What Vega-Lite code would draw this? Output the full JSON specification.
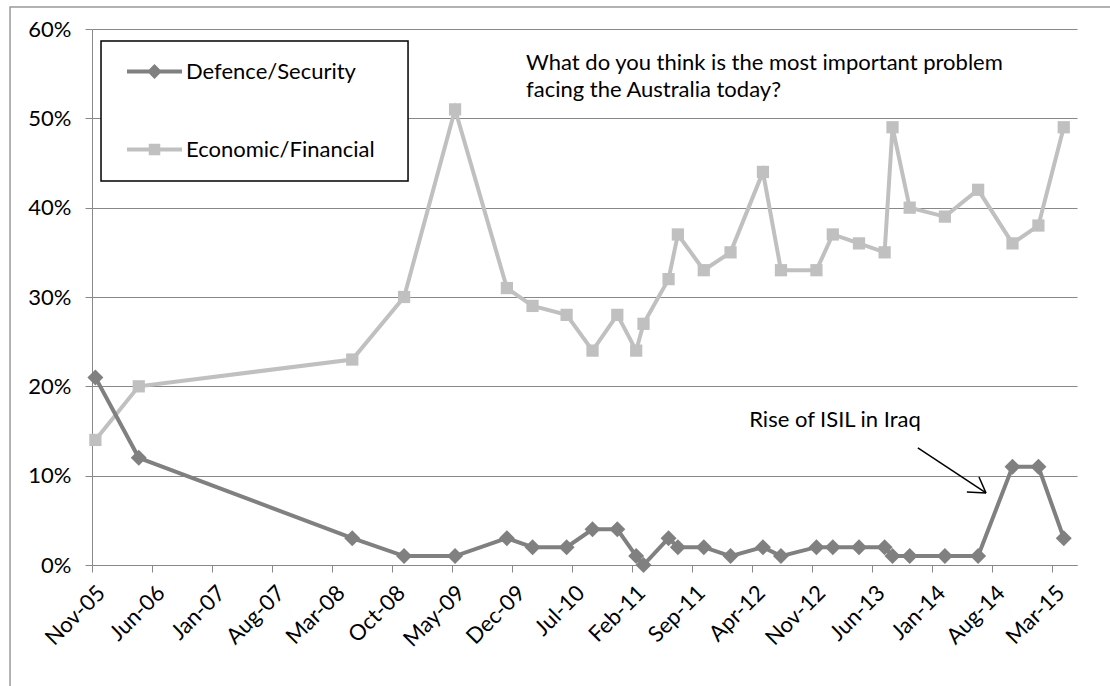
{
  "$schema": "https://vega.github.io/schema/vega-lite/v6.json",
  "width": 985,
  "height": 536,
  "autosize": {"type": "none"},
  "padding": {"left": 92, "top": 29, "right": 33, "bottom": 121},
  "background": "white",
  "config": {
    "font": "Lato",
    "view": {"stroke": null},
    "axis": {"labelFont": "Lato", "labelColor": "#000000", "labelFontSize": 22, "domainColor": "#888888", "tickColor": "#888888", "gridColor": "#888888", "domainWidth": 1, "tickWidth": 1, "gridWidth": 1}
  },
  "datasets": {
    "series": [
      {"date": "2005-11-13", "series": "Economic/Financial", "value": 14},
      {"date": "2006-04-16", "series": "Economic/Financial", "value": 20},
      {"date": "2008-05-13", "series": "Economic/Financial", "value": 23},
      {"date": "2008-11-13", "series": "Economic/Financial", "value": 30},
      {"date": "2009-05-13", "series": "Economic/Financial", "value": 51},
      {"date": "2009-11-13", "series": "Economic/Financial", "value": 31},
      {"date": "2010-02-12", "series": "Economic/Financial", "value": 29},
      {"date": "2010-06-13", "series": "Economic/Financial", "value": 28},
      {"date": "2010-09-13", "series": "Economic/Financial", "value": 24},
      {"date": "2010-12-10", "series": "Economic/Financial", "value": 28},
      {"date": "2011-02-15", "series": "Economic/Financial", "value": 24},
      {"date": "2011-03-13", "series": "Economic/Financial", "value": 27},
      {"date": "2011-06-10", "series": "Economic/Financial", "value": 32},
      {"date": "2011-07-13", "series": "Economic/Financial", "value": 37},
      {"date": "2011-10-13", "series": "Economic/Financial", "value": 33},
      {"date": "2012-01-16", "series": "Economic/Financial", "value": 35},
      {"date": "2012-05-10", "series": "Economic/Financial", "value": 44},
      {"date": "2012-07-13", "series": "Economic/Financial", "value": 33},
      {"date": "2012-11-16", "series": "Economic/Financial", "value": 33},
      {"date": "2013-01-13", "series": "Economic/Financial", "value": 37},
      {"date": "2013-04-16", "series": "Economic/Financial", "value": 36},
      {"date": "2013-07-16", "series": "Economic/Financial", "value": 35},
      {"date": "2013-08-13", "series": "Economic/Financial", "value": 49},
      {"date": "2013-10-13", "series": "Economic/Financial", "value": 40},
      {"date": "2014-02-15", "series": "Economic/Financial", "value": 39},
      {"date": "2014-06-13", "series": "Economic/Financial", "value": 42},
      {"date": "2014-10-13", "series": "Economic/Financial", "value": 36},
      {"date": "2015-01-13", "series": "Economic/Financial", "value": 38},
      {"date": "2015-04-13", "series": "Economic/Financial", "value": 49},
      {"date": "2005-11-13", "series": "Defence/Security", "value": 21},
      {"date": "2006-04-16", "series": "Defence/Security", "value": 12},
      {"date": "2008-05-13", "series": "Defence/Security", "value": 3},
      {"date": "2008-11-13", "series": "Defence/Security", "value": 1},
      {"date": "2009-05-13", "series": "Defence/Security", "value": 1},
      {"date": "2009-11-13", "series": "Defence/Security", "value": 3},
      {"date": "2010-02-12", "series": "Defence/Security", "value": 2},
      {"date": "2010-06-13", "series": "Defence/Security", "value": 2},
      {"date": "2010-09-13", "series": "Defence/Security", "value": 4},
      {"date": "2010-12-10", "series": "Defence/Security", "value": 4},
      {"date": "2011-02-15", "series": "Defence/Security", "value": 1},
      {"date": "2011-03-13", "series": "Defence/Security", "value": 0},
      {"date": "2011-06-10", "series": "Defence/Security", "value": 3},
      {"date": "2011-07-13", "series": "Defence/Security", "value": 2},
      {"date": "2011-10-13", "series": "Defence/Security", "value": 2},
      {"date": "2012-01-16", "series": "Defence/Security", "value": 1},
      {"date": "2012-05-10", "series": "Defence/Security", "value": 2},
      {"date": "2012-07-13", "series": "Defence/Security", "value": 1},
      {"date": "2012-11-16", "series": "Defence/Security", "value": 2},
      {"date": "2013-01-13", "series": "Defence/Security", "value": 2},
      {"date": "2013-04-16", "series": "Defence/Security", "value": 2},
      {"date": "2013-07-16", "series": "Defence/Security", "value": 2},
      {"date": "2013-08-13", "series": "Defence/Security", "value": 1},
      {"date": "2013-10-13", "series": "Defence/Security", "value": 1},
      {"date": "2014-02-15", "series": "Defence/Security", "value": 1},
      {"date": "2014-06-13", "series": "Defence/Security", "value": 1},
      {"date": "2014-10-13", "series": "Defence/Security", "value": 11},
      {"date": "2015-01-13", "series": "Defence/Security", "value": 11},
      {"date": "2015-04-13", "series": "Defence/Security", "value": 3}
    ],
    "frame": [{"date": "2005-01-14", "date2": "2017-06-01", "value": 62.46, "value2": -20}],
    "legendbox": [{"date": "2005-12-03", "date2": "2008-11-27", "value": 58.66, "value2": 42.99}],
    "question": [
      {"date": "2010-01-20", "value": 56.2, "text": "What do you think is the most important problem"},
      {"date": "2010-01-20", "value": 53.2, "text": "facing the Australia today?"}
    ],
    "note": [
      {"date": "2013-01-21", "value": 16.23, "text": "Rise of ISIL in Iraq"}
    ],
    "arrow": [
      {"date": "2013-11-11", "value": 13.1, "date2": "2014-07-11", "value2": 8.06},
      {"date": "2014-05-04", "value": 8.17, "date2": "2014-07-11", "value2": 8.06},
      {"date": "2014-06-16", "value": 9.85, "date2": "2014-07-11", "value2": 8.06}
    ]
  },
  "layer": [
    {
      "data": {"name": "frame"},
      "mark": {"type": "rect", "filled": false, "stroke": "#999999", "strokeWidth": 1.5},
      "encoding": {
        "x": {"field": "date", "type": "temporal"},
        "x2": {"field": "date2"},
        "y": {"field": "value", "type": "quantitative"},
        "y2": {"field": "value2"}
      }
    },
    {
      "data": {"name": "series"},
      "transform": [{"filter": "datum.series === 'Economic/Financial'"}],
      "mark": {"type": "line", "strokeWidth": 4},
      "encoding": {
        "x": {
          "field": "date", "type": "temporal",
          "scale": {"type": "utc", "nice": false, "domain": [{"year": 2005, "month": 11, "date": 1, "utc": true}, {"year": 2015, "month": 5, "date": 30, "utc": true}]},
          "axis": {
            "title": null, "grid": false, "format": "%b-%y", "labelAngle": -45, "labelAlign": "right", "labelBaseline": "middle",
            "labelPadding": 17, "labelOffset": 9, "tickSize": 7, "labelOverlap": false, "labelFlush": false,
            "values": [
              {"year": 2005, "month": 11, "date": 1, "utc": true},
              {"year": 2006, "month": 6, "date": 1, "utc": true},
              {"year": 2007, "month": 1, "date": 1, "utc": true},
              {"year": 2007, "month": 8, "date": 1, "utc": true},
              {"year": 2008, "month": 3, "date": 1, "utc": true},
              {"year": 2008, "month": 10, "date": 1, "utc": true},
              {"year": 2009, "month": 5, "date": 1, "utc": true},
              {"year": 2009, "month": 12, "date": 1, "utc": true},
              {"year": 2010, "month": 7, "date": 1, "utc": true},
              {"year": 2011, "month": 2, "date": 1, "utc": true},
              {"year": 2011, "month": 9, "date": 1, "utc": true},
              {"year": 2012, "month": 4, "date": 1, "utc": true},
              {"year": 2012, "month": 11, "date": 1, "utc": true},
              {"year": 2013, "month": 6, "date": 1, "utc": true},
              {"year": 2014, "month": 1, "date": 1, "utc": true},
              {"year": 2014, "month": 8, "date": 1, "utc": true},
              {"year": 2015, "month": 3, "date": 1, "utc": true}
            ]
          }
        },
        "y": {
          "field": "value", "type": "quantitative",
          "scale": {"domain": [0, 60], "nice": false, "zero": false},
          "axis": {"title": null, "grid": true, "values": [0, 10, 20, 30, 40, 50, 60], "labelExpr": "datum.value + '%'", "tickSize": 7, "labelPadding": 14}
        },
        "color": {
          "field": "series", "type": "nominal",
          "scale": {"domain": ["Defence/Security", "Economic/Financial"], "range": ["#808080", "#C0C0C0"]},
          "legend": {
            "title": null, "orient": "none", "legendX": 35, "legendY": 15, "direction": "vertical",
            "padding": 0, "rowPadding": 39, "labelOffset": 4, "labelLimit": 400, "labelFont": "Lato", "labelFontSize": 22, "labelColor": "#000000",
            "symbolSize": 3025, "symbolType": "M-1,-0.073H1V0.073H-1Z",
            "encode": {
              "symbols": {
                "update": {
                  "shape": {"signal": "datum.value === 'Defence/Security' ? 'M-1,-0.073H1V0.073H-1ZM0,-0.27L0.27,0L0,0.27L-0.27,0Z' : 'M-1,-0.073H1V0.073H-1ZM-0.21,-0.21H0.21V0.21H-0.21Z'"},
                  "fill": {"scale": "color", "field": "value"},
                  "fillOpacity": {"value": 1},
                  "stroke": {"value": "transparent"},
                  "strokeWidth": {"value": 0},
                  "opacity": {"value": 1}
                }
              }
            }
          }
        }
      }
    },
    {
      "data": {"name": "series"},
      "transform": [{"filter": "datum.series === 'Economic/Financial'"}],
      "mark": {"type": "point", "shape": "square", "filled": true, "size": 150, "opacity": 1},
      "encoding": {
        "x": {"field": "date", "type": "temporal"},
        "y": {"field": "value", "type": "quantitative"},
        "color": {"field": "series", "type": "nominal"}
      }
    },
    {
      "data": {"name": "series"},
      "transform": [{"filter": "datum.series === 'Defence/Security'"}],
      "mark": {"type": "line", "strokeWidth": 4},
      "encoding": {
        "x": {"field": "date", "type": "temporal"},
        "y": {"field": "value", "type": "quantitative"},
        "color": {"field": "series", "type": "nominal"}
      }
    },
    {
      "data": {"name": "series"},
      "transform": [{"filter": "datum.series === 'Defence/Security'"}],
      "mark": {"type": "point", "shape": "diamond", "filled": true, "size": 256, "opacity": 1},
      "encoding": {
        "x": {"field": "date", "type": "temporal"},
        "y": {"field": "value", "type": "quantitative"},
        "color": {"field": "series", "type": "nominal"}
      }
    },
    {
      "data": {"name": "legendbox"},
      "mark": {"type": "rect", "fill": "#ffffff", "stroke": "#000000", "strokeWidth": 1.5},
      "encoding": {
        "x": {"field": "date", "type": "temporal"},
        "x2": {"field": "date2"},
        "y": {"field": "value", "type": "quantitative"},
        "y2": {"field": "value2"}
      }
    },
    {
      "data": {"name": "question"},
      "mark": {"type": "text", "align": "left", "baseline": "middle", "fontSize": 22, "font": "Lato", "color": "#000000"},
      "encoding": {
        "x": {"field": "date", "type": "temporal"},
        "y": {"field": "value", "type": "quantitative"},
        "text": {"field": "text"}
      }
    },
    {
      "data": {"name": "note"},
      "mark": {"type": "text", "align": "center", "baseline": "middle", "fontSize": 22, "font": "Lato", "color": "#000000"},
      "encoding": {
        "x": {"field": "date", "type": "temporal"},
        "y": {"field": "value", "type": "quantitative"},
        "text": {"field": "text"}
      }
    },
    {
      "data": {"name": "arrow"},
      "mark": {"type": "rule", "color": "#000000", "strokeWidth": 1.5},
      "encoding": {
        "x": {"field": "date", "type": "temporal"},
        "x2": {"field": "date2"},
        "y": {"field": "value", "type": "quantitative"},
        "y2": {"field": "value2"}
      }
    }
  ]
}
